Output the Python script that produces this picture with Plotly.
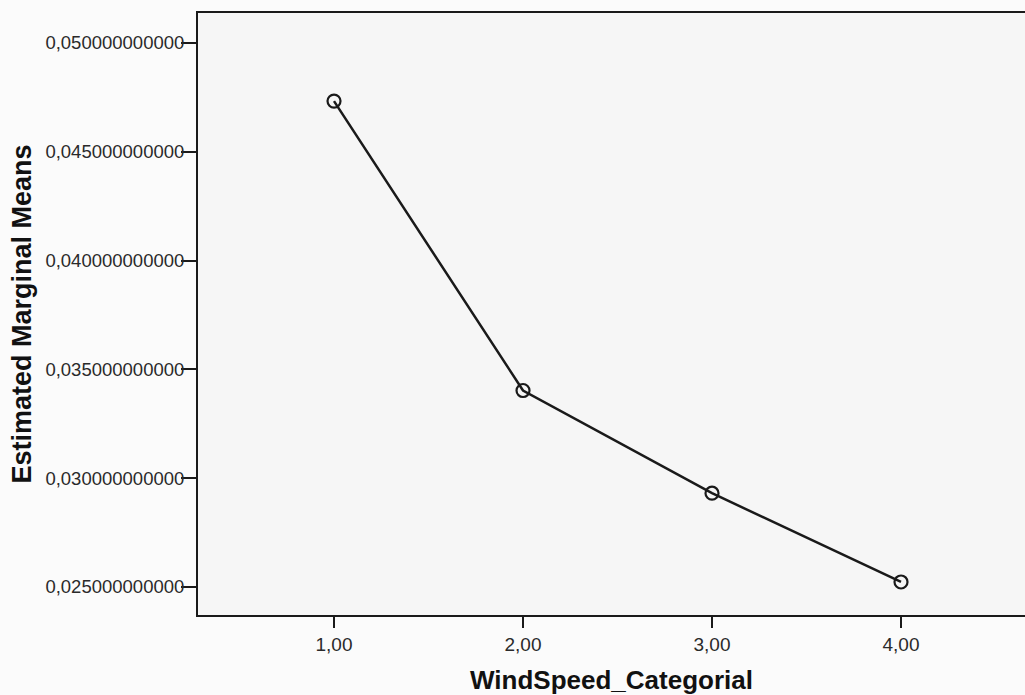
import plotly.graph_objects as go

# Estimated marginal means by wind speed category
wind_speed_levels = [1, 2, 3, 4]
marginal_means = [0.04733, 0.03403, 0.02931, 0.02523]

y_tick_values = [0.025, 0.030, 0.035, 0.040, 0.045, 0.050]
x_tick_values = [1, 2, 3, 4]

ink = "#1a1a1a"

fig = go.Figure()
fig.add_trace(
    go.Scatter(
        x=wind_speed_levels,
        y=marginal_means,
        mode="lines+markers",
        line=dict(color=ink, width=2.5),
        marker=dict(symbol="circle-open", size=13, color=ink, line=dict(width=2.2, color=ink)),
        showlegend=False,
        cliponaxis=False,
    )
)

fig.update_layout(
    width=1025,
    height=695,
    margin=dict(l=198, r=0, t=13, b=80),
    paper_bgcolor="#fbfbfb",
    plot_bgcolor="#f6f6f6",
    separators=",.",
    font=dict(family="Liberation Sans, Arial, sans-serif", color="#2a2a2a"),
    xaxis=dict(
        range=[0.2804, 4.656],
        tickvals=x_tick_values,
        tickformat=".2f",
        ticks="outside",
        ticklen=11,
        tickwidth=2,
        tickcolor=ink,
        showline=True,
        linecolor=ink,
        linewidth=2,
        mirror=True,
        showgrid=False,
        zeroline=False,
        tickfont=dict(size=19, color="#2a2a2a"),
        title=dict(
            text="<b>WindSpeed_Categorial</b>",
            font=dict(size=26, color="#111111"),
            standoff=20,
        ),
    ),
    yaxis=dict(
        range=[0.023713, 0.051379],
        tickvals=y_tick_values,
        tickformat=".12f",
        ticks="outside",
        ticklen=15,
        tickwidth=2,
        tickcolor=ink,
        showline=True,
        linecolor=ink,
        linewidth=2,
        mirror=False,
        showgrid=False,
        zeroline=False,
        ticklabelstandoff=-7,
        tickfont=dict(size=18.5, color="#2a2a2a"),
        title=dict(
            text="<b>Estimated Marginal Means</b>",
            font=dict(size=27, color="#111111"),
            standoff=6,
        ),
    ),
)

fig.write_html("out.html")
